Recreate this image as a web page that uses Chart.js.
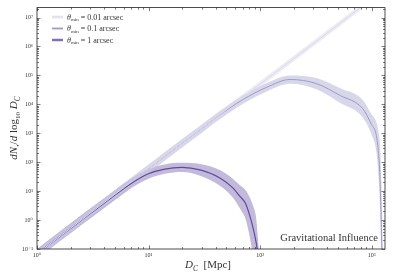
<!DOCTYPE html>
<html>
<head>
<meta charset="utf-8">
<script src="https://cdn.jsdelivr.net/npm/chart.js@4.4.1/dist/chart.umd.min.js"></script>
<style>
  body { margin: 0; background: #fff; }
  #wrap { width: 399px; height: 279px; }
</style>
</head>
<body>
<div id="wrap"><canvas id="myChart"></canvas></div>
<script>
// theta_min = 0.01 arcsec
const lightD  = [1, 2, 5, 10, 20, 50, 100, 200, 500, 1000];
const light   = [0.068, 0.53, 7.8, 59, 450, 6600, 5.0e4, 3.8e5, 5.6e6, 4.4e7];
const lightHi = [0.094, 0.73, 10.8, 81, 620, 8600, 6.3e4, 4.8e5, 7.0e6, 5.5e7];
const lightLo = [0.049, 0.38, 5.7, 43, 326, 5100, 4.0e4, 3.0e5, 4.5e6, 3.5e7];

// theta_min = 0.1 arcsec
const medD  = [1, 2, 5, 10, 20, 30, 40, 55, 70, 115, 186, 320, 525, 830, 1000, 1100, 1150, 1190, 1215, 1235, 1250, 1270];
const med   = [0.068, 0.53, 7.8, 59, 450, 1450, 3400, 8000, 1.45e4, 3.9e4, 7.2e4, 5.2e4, 2.0e4, 7.2e3, 2.0e3, 900, 250, 30, 2, 0.15, 0.02, 0.002];
const medHi = [0.096, 0.75, 11, 83, 635, 2000, 4600, 1.08e4, 2.0e4, 5.5e4, 1.0e5, 8.2e4, 3.6e4, 1.45e4, 4.5e3, 2.5e3, 1.2e3, 400, 60, 5, 0.5, 0.02];
const medLo = [0.048, 0.38, 5.5, 42, 320, 1030, 2450, 5700, 1.03e4, 2.8e4, 5.1e4, 3.3e4, 1.1e4, 3.6e3, 900, 250, 40, 3, 0.1, 0.008, 0.001, 0.0001];

// theta_min = 1 arcsec
const darkD  = [1, 2, 3.5, 5, 7.5, 10, 14, 20, 29, 44, 57, 66, 74, 81, 87, 92, 95, 98];
const dark   = [0.068, 0.52, 2.6, 7.3, 22, 40, 58, 66, 54, 28, 13, 6.6, 3.8, 1.4, 0.5, 0.18, 0.08, 0.02];
const darkHi = [0.10, 0.77, 3.85, 10.8, 32, 58, 84, 95, 86, 53, 27, 16, 11, 6, 3, 1.3, 0.35, 0.06];
const darkLo = [0.046, 0.35, 1.75, 4.9, 15, 27, 40, 46, 34, 15, 6, 2.5, 1.1, 0.25, 0.05, 0.01, 0.003, 0.0005];

const legendLabels = ['0.01 arcsec', '0.1 arcsec', '1 arcsec'];
const lineColors = ['#dadaeb', '#9e9ac8', '#5f4a9e'];
const bandColors = ['rgba(218,218,235,0.5)', 'rgba(158,154,200,0.4)', 'rgba(106,81,163,0.4)'];

const pts = (xs, ys) => xs.map((x, i) => ({x: x, y: ys[i]}));

function bandSet(xs, hi, lo, col) {
  return [
    {data: pts(xs, hi), borderWidth: 0, pointRadius: 0, fill: '+1', backgroundColor: col, cubicInterpolationMode: 'monotone'},
    {data: pts(xs, lo), borderWidth: 0, pointRadius: 0, fill: false, cubicInterpolationMode: 'monotone'}
  ];
}
function lineSet(xs, ys, col, w) {
  return {data: pts(xs, ys), borderColor: col, borderWidth: w, pointRadius: 0, fill: false, cubicInterpolationMode: 'monotone'};
}

const SUP = {'-': '⁻', '0': '⁰', '1': '¹', '2': '²', '3': '³', '4': '⁴', '5': '⁵', '6': '⁶', '7': '⁷', '8': '⁸', '9': '⁹'};
function powLabel(v) {
  const l = Math.log10(v);
  if (Math.abs(l - Math.round(l)) > 1e-6) return '';
  return '10' + String(Math.round(l)).split('').map(c => SUP[c]).join('');
}

const SERIF = "'Liberation Serif', 'DejaVu Serif', serif";

function drawRuns(ctx, runs, cx, y) {
  let w = 0;
  runs.forEach(r => {
    ctx.font = (r.it ? 'italic ' : '') + r.size + 'px ' + SERIF;
    r.w = ctx.measureText(r.t).width;
    w += r.w;
  });
  let x = cx - w / 2;
  ctx.textAlign = 'left';
  ctx.textBaseline = 'alphabetic';
  runs.forEach(r => {
    ctx.font = (r.it ? 'italic ' : '') + r.size + 'px ' + SERIF;
    ctx.fillText(r.t, x, y + (r.dy || 0));
    x += r.w;
  });
}

const decor = {
  id: 'decor',
  afterDraw(chart) {
    const ctx = chart.ctx;
    const a = chart.chartArea;
    const xs = chart.scales.x, ys = chart.scales.y;
    ctx.save();
    ctx.strokeStyle = '#222';
    ctx.lineWidth = 0.8;
    ctx.strokeRect(a.left, a.top, a.right - a.left, a.bottom - a.top);

    // inward ticks, all four sides
    ctx.lineWidth = 0.6;
    ctx.beginPath();
    for (let k = 0; k <= 3; k++) {
      for (let m = 1; m <= 9; m++) {
        const v = m * Math.pow(10, k);
        if (v < xs.min || v > xs.max) continue;
        const p = Math.round(xs.getPixelForValue(v)) + 0.5;
        const len = m === 1 ? 3.5 : 2;
        ctx.moveTo(p, a.bottom); ctx.lineTo(p, a.bottom - len);
        ctx.moveTo(p, a.top); ctx.lineTo(p, a.top + len);
      }
    }
    for (let k = -1; k <= 7; k++) {
      for (let m = 1; m <= 9; m++) {
        const v = m * Math.pow(10, k);
        if (v < ys.min || v > ys.max) continue;
        const p = Math.round(ys.getPixelForValue(v)) + 0.5;
        const len = m === 1 ? 3.5 : 2;
        ctx.moveTo(a.left, p); ctx.lineTo(a.left + len, p);
        ctx.moveTo(a.right, p); ctx.lineTo(a.right - len, p);
      }
    }
    ctx.stroke();

    // legend
    const ly = [17, 28.5, 40];
    for (let i = 0; i < 3; i++) {
      ctx.fillStyle = bandColors[i];
      ctx.fillRect(52, ly[i] - 1.5, 11, 3);
      ctx.strokeStyle = lineColors[i];
      ctx.lineWidth = i === 2 ? 1.3 : 1;
      ctx.beginPath();
      ctx.moveTo(52, ly[i]); ctx.lineTo(63, ly[i]);
      ctx.stroke();
      ctx.fillStyle = '#333';
      let x = 67;
      const base = ly[i] + 2.5;
      ctx.textAlign = 'left';
      ctx.textBaseline = 'alphabetic';
      ctx.font = 'italic 8px ' + SERIF;
      ctx.fillText('θ', x, base); x += ctx.measureText('θ').width;
      ctx.font = '5px ' + SERIF;
      ctx.fillText('min', x, base + 1.5); x += ctx.measureText('min').width;
      ctx.font = '8px ' + SERIF;
      ctx.fillText(' = ' + legendLabels[i], x, base);
    }

    // axis titles
    ctx.fillStyle = '#333';
    drawRuns(ctx, [
      {t: 'D', it: true, size: 11},
      {t: 'C', it: true, size: 7.5, dy: 2.5},
      {t: '  [Mpc]', size: 11}
    ], 208, 268);

    ctx.save();
    ctx.translate(13, 128);
    ctx.rotate(-Math.PI / 2);
    drawRuns(ctx, [
      {t: 'dN', it: true, size: 11},
      {t: '•', size: 7, dy: 2.5},
      {t: '/', size: 11},
      {t: 'd', it: true, size: 11},
      {t: ' log', size: 11},
      {t: '10', size: 7, dy: 2.5},
      {t: ' ', size: 11},
      {t: 'D', it: true, size: 11},
      {t: 'C', it: true, size: 7.5, dy: 2.5}
    ], 0, 4);
    ctx.restore();

    ctx.font = '10.5px ' + SERIF;
    ctx.textAlign = 'right';
    ctx.fillStyle = '#333';
    ctx.fillText('Gravitational Influence', a.right - 7, a.bottom - 8.5);
    ctx.restore();
  }
};

const datasets = [].concat(
  bandSet(lightD, lightHi, lightLo, bandColors[0]),
  bandSet(medD, medHi, medLo, bandColors[1]),
  bandSet(darkD, darkHi, darkLo, bandColors[2]),
  [lineSet(lightD, light, lineColors[0], 1),
   lineSet(medD, med, lineColors[1], 1),
   lineSet(darkD, dark, lineColors[2], 1.2)]
);

const tickFont = {family: SERIF, size: 6};

const myChart = new Chart(document.getElementById('myChart').getContext('2d'), {
  type: 'line',
  data: {datasets: datasets},
  options: {
    responsive: true,
    maintainAspectRatio: false,
    animation: false,
    layout: {padding: {top: 7, right: 14, left: 0, bottom: 0}},
    plugins: {
      legend: {display: false},
      tooltip: {enabled: false},
      filler: {drawTime: 'beforeDatasetsDraw'}
    },
    scales: {
      x: {
        type: 'logarithmic',
        min: 1,
        max: 1320,
        grid: {display: false, drawTicks: false},
        border: {display: false},
        ticks: {font: tickFont, color: '#333', padding: 3, autoSkip: false, maxRotation: 0, callback: powLabel},
        afterFit(s) { s.height = 30; }
      },
      y: {
        type: 'logarithmic',
        min: 0.1,
        max: 2.2e7,
        grid: {display: false, drawTicks: false},
        border: {display: false},
        ticks: {font: tickFont, color: '#333', padding: 4, autoSkip: false, callback: powLabel},
        afterFit(s) { s.width = 37; }
      }
    }
  },
  plugins: [decor]
});
</script>
</body>
</html>
